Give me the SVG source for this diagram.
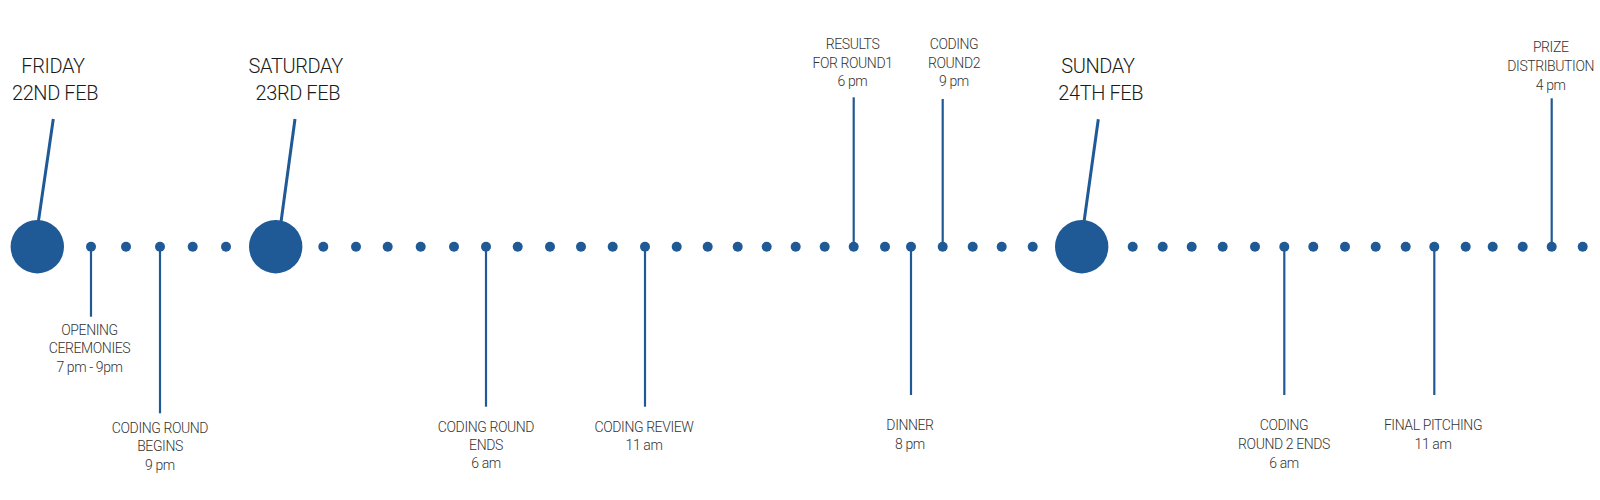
<svg xmlns="http://www.w3.org/2000/svg" width="1600" height="500" viewBox="0 0 1600 500">
<style>
.bg{fill:#ffffff}
.dot{fill:#1f5a96}
.big{fill:#1f5a96}
.ln{stroke:#1f5a96;stroke-width:2.2;fill:none}
.pin{stroke:#1f5a96;stroke-width:3;fill:none;stroke-linecap:butt}
.day{font-family:Roboto,"Liberation Sans",sans-serif;font-weight:300;font-size:20px;fill:#1a1a1a;text-anchor:middle;letter-spacing:-0.4px}
.ev{font-family:Roboto,"Liberation Sans",sans-serif;font-weight:300;font-size:14px;fill:#333333;text-anchor:middle;letter-spacing:-0.4px}
</style>
<rect class="bg" x="0" y="0" width="1600" height="500"/>
<g id="timeline-dots">
<circle class="dot" cx="91" cy="246.7" r="5"/>
<circle class="dot" cx="126" cy="246.7" r="5"/>
<circle class="dot" cx="160" cy="246.7" r="5"/>
<circle class="dot" cx="192.7" cy="246.7" r="5"/>
<circle class="dot" cx="226" cy="246.7" r="5"/>
<circle class="dot" cx="323.3" cy="246.7" r="5"/>
<circle class="dot" cx="356" cy="246.7" r="5"/>
<circle class="dot" cx="387.7" cy="246.7" r="5"/>
<circle class="dot" cx="420.7" cy="246.7" r="5"/>
<circle class="dot" cx="454" cy="246.7" r="5"/>
<circle class="dot" cx="486" cy="246.7" r="5"/>
<circle class="dot" cx="517.7" cy="246.7" r="5"/>
<circle class="dot" cx="550" cy="246.7" r="5"/>
<circle class="dot" cx="581" cy="246.7" r="5"/>
<circle class="dot" cx="612.7" cy="246.7" r="5"/>
<circle class="dot" cx="645" cy="246.7" r="5"/>
<circle class="dot" cx="676.7" cy="246.7" r="5"/>
<circle class="dot" cx="707.7" cy="246.7" r="5"/>
<circle class="dot" cx="737.7" cy="246.7" r="5"/>
<circle class="dot" cx="766.7" cy="246.7" r="5"/>
<circle class="dot" cx="795.7" cy="246.7" r="5"/>
<circle class="dot" cx="824.7" cy="246.7" r="5"/>
<circle class="dot" cx="853.7" cy="246.7" r="5"/>
<circle class="dot" cx="885" cy="246.7" r="5"/>
<circle class="dot" cx="911" cy="246.7" r="5"/>
<circle class="dot" cx="942.7" cy="246.7" r="5"/>
<circle class="dot" cx="972.7" cy="246.7" r="5"/>
<circle class="dot" cx="1001.7" cy="246.7" r="5"/>
<circle class="dot" cx="1032.7" cy="246.7" r="5"/>
<circle class="dot" cx="1132.7" cy="246.7" r="5"/>
<circle class="dot" cx="1162.7" cy="246.7" r="5"/>
<circle class="dot" cx="1191.7" cy="246.7" r="5"/>
<circle class="dot" cx="1222.7" cy="246.7" r="5"/>
<circle class="dot" cx="1255" cy="246.7" r="5"/>
<circle class="dot" cx="1284.3" cy="246.7" r="5"/>
<circle class="dot" cx="1313.3" cy="246.7" r="5"/>
<circle class="dot" cx="1345" cy="246.7" r="5"/>
<circle class="dot" cx="1375.7" cy="246.7" r="5"/>
<circle class="dot" cx="1405.7" cy="246.7" r="5"/>
<circle class="dot" cx="1434.3" cy="246.7" r="5"/>
<circle class="dot" cx="1465.7" cy="246.7" r="5"/>
<circle class="dot" cx="1492.7" cy="246.7" r="5"/>
<circle class="dot" cx="1522.7" cy="246.7" r="5"/>
<circle class="dot" cx="1551.7" cy="246.7" r="5"/>
<circle class="dot" cx="1582.7" cy="246.7" r="5"/>
</g>
<g id="connectors">
<line class="pin" x1="53.3" y1="119" x2="38.3" y2="222"/>
<line class="pin" x1="295" y1="119" x2="281" y2="222"/>
<line class="pin" x1="1098.3" y1="119.3" x2="1084" y2="222"/>
<line class="ln" x1="91" y1="246.7" x2="91" y2="316.7"/>
<line class="ln" x1="160" y1="246.7" x2="160" y2="413.3"/>
<line class="ln" x1="486" y1="246.7" x2="486" y2="406.7"/>
<line class="ln" x1="645" y1="246.7" x2="645" y2="406.7"/>
<line class="ln" x1="853.7" y1="97.3" x2="853.7" y2="246.7"/>
<line class="ln" x1="911" y1="246.7" x2="911" y2="395"/>
<line class="ln" x1="942.7" y1="99" x2="942.7" y2="246.7"/>
<line class="ln" x1="1284.3" y1="246.7" x2="1284.3" y2="395"/>
<line class="ln" x1="1434.3" y1="246.7" x2="1434.3" y2="395"/>
<line class="ln" x1="1551.7" y1="98.3" x2="1551.7" y2="246.7"/>
</g>
<g id="friday">
<circle class="big" cx="37.3" cy="246.7" r="26.7"/>
<text class="day" x="53" y="73.3">FRIDAY</text>
<text class="day" x="55" y="100">22ND FEB</text>
</g>
<g id="saturday">
<circle class="big" cx="275.7" cy="246.7" r="26.7"/>
<text class="day" x="295.7" y="73.3">SATURDAY</text>
<text class="day" x="297.8" y="100">23RD FEB</text>
</g>
<g id="sunday">
<circle class="big" cx="1081.7" cy="246.7" r="26.7"/>
<text class="day" x="1098" y="73.3">SUNDAY</text>
<text class="day" x="1100.8" y="100">24TH FEB</text>
</g>
<g id="opening">
<text class="ev" x="89.5" y="335">OPENING</text>
<text class="ev" x="89.5" y="353.3">CEREMONIES</text>
<text class="ev" x="89.5" y="371.7">7 pm - 9pm</text>
</g>
<g id="coding-begins">
<text class="ev" x="160" y="432.7">CODING ROUND</text>
<text class="ev" x="160" y="451">BEGINS</text>
<text class="ev" x="160" y="469.5">9 pm</text>
</g>
<g id="coding-ends">
<text class="ev" x="486" y="431.7">CODING ROUND</text>
<text class="ev" x="486" y="450">ENDS</text>
<text class="ev" x="486" y="468.3">6 am</text>
</g>
<g id="coding-review">
<text class="ev" x="644" y="431.7">CODING REVIEW</text>
<text class="ev" x="644" y="450">11 am</text>
</g>
<g id="results">
<text class="ev" x="852.5" y="49.3">RESULTS</text>
<text class="ev" x="852.5" y="67.7">FOR ROUND1</text>
<text class="ev" x="852.5" y="86.3">6 pm</text>
</g>
<g id="dinner">
<text class="ev" x="910" y="430">DINNER</text>
<text class="ev" x="910" y="449.3">8 pm</text>
</g>
<g id="coding-round2">
<text class="ev" x="954" y="49.3">CODING</text>
<text class="ev" x="954" y="67.7">ROUND2</text>
<text class="ev" x="954" y="86.3">9 pm</text>
</g>
<g id="coding-round2-ends">
<text class="ev" x="1284" y="430">CODING</text>
<text class="ev" x="1284" y="449.3">ROUND 2 ENDS</text>
<text class="ev" x="1284" y="468.3">6 am</text>
</g>
<g id="final-pitching">
<text class="ev" x="1433" y="430">FINAL PITCHING</text>
<text class="ev" x="1433" y="449.3">11 am</text>
</g>
<g id="prize">
<text class="ev" x="1550.7" y="52.3">PRIZE</text>
<text class="ev" x="1550.7" y="71">DISTRIBUTION</text>
<text class="ev" x="1550.7" y="90">4 pm</text>
</g>
</svg>
